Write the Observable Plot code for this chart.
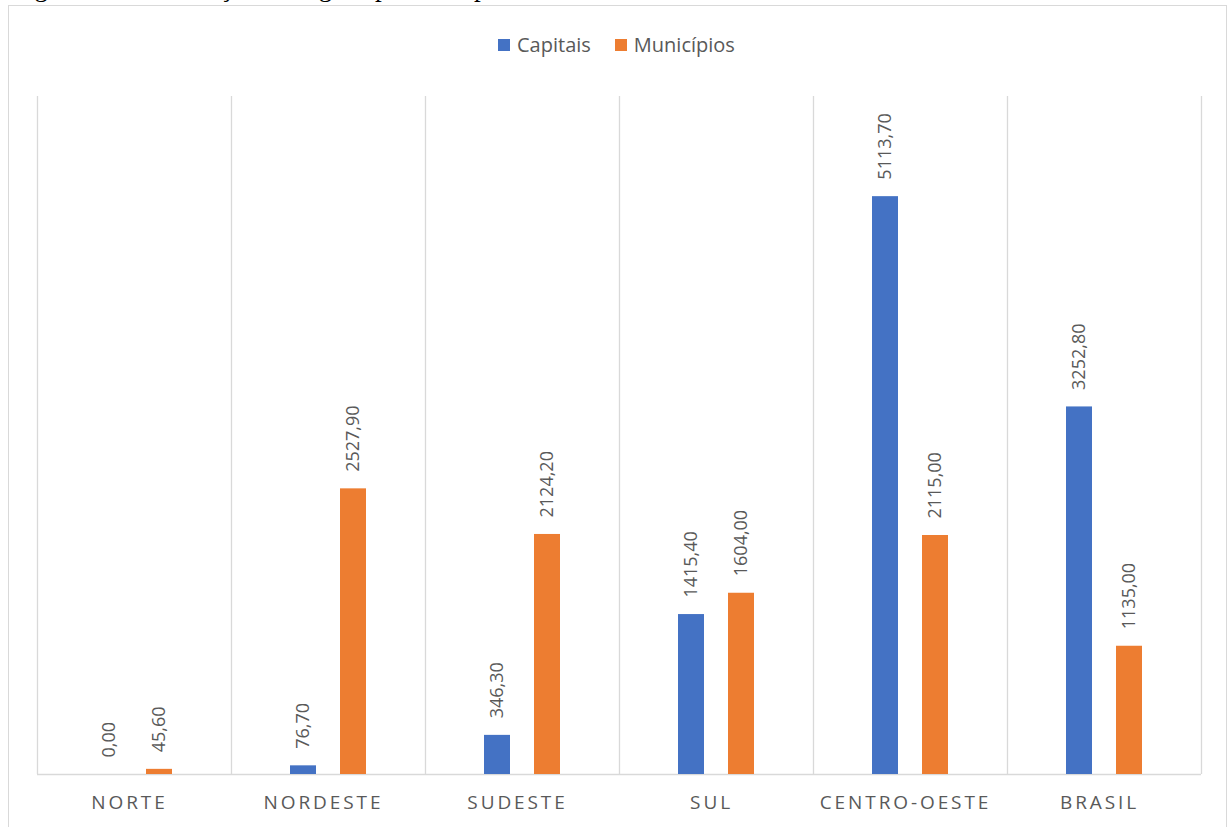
<!DOCTYPE html>
<html>
<head>
<meta charset="utf-8">
<script src="https://cdn.jsdelivr.net/npm/d3@7"></script>
<script src="https://cdn.jsdelivr.net/npm/@observablehq/plot@0.6"></script>
<style>
  html, body { margin: 0; padding: 0; background: #ffffff; overflow: hidden; }
  #wrap { position: relative; width: 1231px; height: 827px; overflow: hidden; font-family: "Open Sans", sans-serif; }
  #caption { position: absolute; left: 12px; top: -26px; font-family: "Liberation Serif", serif; font-size: 27px; line-height: 27px; color: #000; white-space: nowrap; }
  #frame { position: absolute; left: 8px; top: 5px; width: 1219px; height: 840px; border: 1px solid #d9d9d9; box-sizing: border-box; background: #fff; }
  #legend { position: absolute; left: 498px; top: 31px; display: flex; align-items: center; font-size: 20px; color: #595959; white-space: nowrap; }
  #legend .sw { width: 12px; height: 12px; display: inline-block; margin-right: 7px; }
  #legend .item { display: flex; align-items: center; margin-right: 24px; }
  .layer { position: absolute; left: 0; top: 0; }
  .layer g[aria-label*="fx-axis"] text { letter-spacing: 2.9px; }
</style>
</head>
<body>
<div id="wrap">
  <div id="caption">Figura 3 – Observação das águas pluviais, por unidade de área urbana.</div>
  <div id="frame"></div>
  <div id="grid" class="layer"></div>
  <div id="bars" class="layer"></div>
  <div id="legend"></div>
</div>
<script>
const regions = ["NORTE", "NORDESTE", "SUDESTE", "SUL", "CENTRO-OESTE", "BRASIL"];
const series = ["Capitais", "Municípios"];
const capitais = [0.00, 76.70, 346.30, 1415.40, 5113.70, 3252.80];
const municipios = [45.60, 2527.90, 2124.20, 1604.00, 2115.00, 1135.00];
const colors = ["#4472C4", "#ED7D31"];

const data = [];
regions.forEach((r, i) => {
  data.push({region: r, series: series[0], value: capitais[i]});
  data.push({region: r, series: series[1], value: municipios[i]});
});
const fmt = v => v.toFixed(2).replace(".", ",");

const W = 1231, H = 827;
const margins = {marginLeft: 37, marginRight: 30, marginTop: 96, marginBottom: 53};

// grid layer: category boundaries and baseline
const bounds = d3.range(regions.length + 1);
const grid = Plot.plot({
  width: W, height: H, ...margins,
  style: {background: "transparent"},
  x: {type: "linear", domain: [0, regions.length], axis: null},
  y: {domain: [0, 6000], axis: null},
  marks: [
    Plot.ruleX(bounds, {x: d => d, y1: 0, y2: 6000, stroke: "#d9d9d9", strokeWidth: 1.3}),
    Plot.ruleY([0], {stroke: "#d9d9d9", strokeWidth: 1.3})
  ]
});
document.getElementById("grid").appendChild(grid);

const chart = Plot.plot({
  width: W, height: H, ...margins,
  style: {background: "transparent", fontFamily: "Open Sans", color: "#595959"},
  fx: {domain: regions, padding: 0, label: null},
  x: {domain: series, paddingInner: 0.48, paddingOuter: 1.18, axis: null},
  y: {domain: [0, 6000], axis: null},
  color: {domain: series, range: colors},
  marks: [
    Plot.barY(data, {fx: "region", x: "series", y: "value", fill: "series"}),
    Plot.text(data, {fx: "region", x: "series", y: "value", text: d => fmt(d.value),
      rotate: -90, textAnchor: "start", dy: -17, fontSize: 18, fill: "#595959"}),
    Plot.axisFx({anchor: "bottom", tickSize: 0, tickPadding: 21, fontSize: 19, fill: "#595959", label: null, dx: -5})
  ]
});
document.getElementById("bars").appendChild(chart);

const legend = document.getElementById("legend");
series.forEach((s, i) => {
  const item = document.createElement("div");
  item.className = "item";
  const sw = document.createElement("span");
  sw.className = "sw";
  sw.style.background = colors[i];
  item.appendChild(sw);
  const t = document.createElement("span");
  t.textContent = s;
  item.appendChild(t);
  legend.appendChild(item);
});
</script>
</body>
</html>
